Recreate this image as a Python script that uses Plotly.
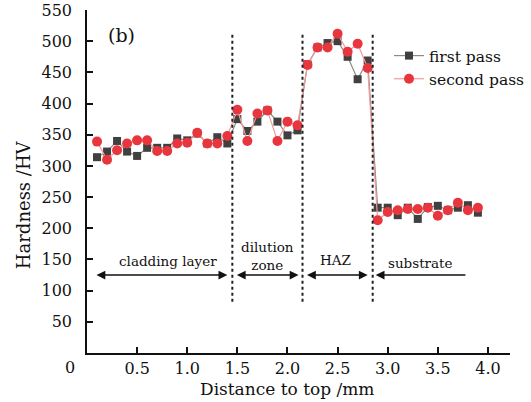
import plotly.graph_objects as go

# ---------------- data ----------------
distance = [0.1, 0.2, 0.3, 0.4, 0.5, 0.6, 0.7, 0.8, 0.9, 1.0,
            1.1, 1.2, 1.3, 1.4, 1.5, 1.6, 1.7, 1.8, 1.9, 2.0,
            2.1, 2.2, 2.3, 2.4, 2.5, 2.6, 2.7, 2.8, 2.9, 3.0,
            3.1, 3.2, 3.3, 3.4, 3.5, 3.6, 3.7, 3.8, 3.9]

first_pass = [314, 323, 340, 323, 316, 329, 329, 329, 344, 341,
              352, 336, 346, 336, 375, 356, 371, 389, 371, 349,
              357, 463, 490, 497, 500, 475, 439, 469, 233, 233,
              221, 233, 215, 234, 236, 229, 233, 237, 225]

second_pass = [339, 310, 325, 336, 341, 341, 324, 324, 336, 337,
               353, 336, 336, 348, 390, 340, 384, 389, 340, 371,
               365, 462, 490, 490, 512, 483, 496, 457, 213, 226,
               229, 231, 231, 233, 220, 229, 241, 229, 233]

series_names = ["first pass", "second pass"]

y_ticks = [50, 100, 150, 200, 250, 300, 350, 400, 450, 500, 550]
x_ticks = [0.5, 1.0, 1.5, 2.0, 2.5, 3.0, 3.5, 4.0]
x_tick_labels = ["0.5", "1.0", "1.5", "2.0", "2.5", "3.0", "3.5", "4.0"]

# zone boundaries (mm)
boundaries = [1.45, 2.15, 2.85]
boundary_low, boundary_high = 82, 513

# zone labels and arrows (start, end in mm)
zone_labels = ["cladding layer", "dilution<br>zone", "HAZ", "substrate"]
zone_arrow_from = [0.08, 1.48, 2.18, 3.79]
zone_arrow_to = [1.40, 2.11, 2.80, 2.88]
zone_arrow_both = [True, True, True, False]
zone_label_x = [0.81, 1.80, 2.48, 3.33]
zone_label_y = [148, 156, 149, 145]
arrow_level = 125

FONT = "DejaVu Serif"

# plot-area geometry in pixels (for placing paper-referenced text)
L, R, T, B = 87, 510, 10, 352.7
def px(x):
    return (x - L) / (R - L)
def py(y):
    return (B - y) / (B - T)

fig = go.Figure()
fig.add_trace(go.Scatter(
    x=distance, y=first_pass, name=series_names[0], mode="lines+markers",
    line=dict(color="#8a8a8a", width=1.2),
    marker=dict(symbol="square", size=8, color="#404040"),
))
fig.add_trace(go.Scatter(
    x=distance, y=second_pass, name=series_names[1], mode="lines+markers",
    line=dict(color="#f39a9a", width=1.2),
    marker=dict(symbol="circle", size=10, color="#e8363f"),
))

shapes = []
for b in boundaries:
    shapes.append(dict(type="line", xref="x", yref="y", x0=b, x1=b,
                       y0=boundary_low, y1=boundary_high,
                       line=dict(color="#222222", width=2, dash="dot")))

annotations = []
for lab, a0, a1, both, lx, ly in zip(zone_labels, zone_arrow_from, zone_arrow_to,
                                     zone_arrow_both, zone_label_x, zone_label_y):
    annotations.append(dict(
        x=a1, y=arrow_level, ax=a0, ay=arrow_level, axref="x", ayref="y",
        xref="x", yref="y", text="", showarrow=True,
        arrowhead=2, startarrowhead=2, arrowsize=1.1, startarrowsize=1.1,
        arrowwidth=1.6, arrowcolor="#111111",
        arrowside="end+start" if both else "end"))
    annotations.append(dict(
        x=lx, y=ly, xref="x", yref="y", text=lab, showarrow=False,
        font=dict(family=FONT, size=13.5, color="#111111"),
        yanchor="middle", xanchor="center"))

annotations.append(dict(x=px(121), y=py(35), xref="paper", yref="paper",
                        text="(b)", showarrow=False,
                        font=dict(family=FONT, size=19, color="#111111"),
                        xanchor="center", yanchor="middle"))
annotations.append(dict(x=px(70), y=py(367), xref="paper", yref="paper",
                        text="0", showarrow=False,
                        font=dict(family=FONT, size=16, color="#111111"),
                        xanchor="center", yanchor="middle"))
annotations.append(dict(x=px(287), y=py(389), xref="paper", yref="paper",
                        text="Distance to top /mm", showarrow=False,
                        font=dict(family=FONT, size=17, color="#111111"),
                        xanchor="center", yanchor="middle"))
annotations.append(dict(x=px(23), y=py(205), xref="paper", yref="paper",
                        text="Hardness /HV", showarrow=False, textangle=-90,
                        font=dict(family=FONT, size=18, color="#111111"),
                        xanchor="center", yanchor="middle"))

fig.update_layout(
    width=531, height=402,
    margin=dict(l=L, r=531 - R, t=T, b=402 - B, autoexpand=False),
    paper_bgcolor="white", plot_bgcolor="white",
    font=dict(family=FONT, size=16, color="#111111"),
    showlegend=True,
    legend=dict(x=px(389), y=py(39), xanchor="left", yanchor="top",
                bgcolor="rgba(0,0,0,0)",
                font=dict(family=FONT, size=15.5, color="#111111"),
                tracegroupgap=0, itemwidth=30),
    shapes=shapes, annotations=annotations,
    xaxis=dict(range=[0, 4.22], tickvals=x_ticks, ticktext=x_tick_labels,
               showgrid=False, zeroline=False, showline=True,
               linecolor="#111111", linewidth=1.5, ticks="inside",
               ticklen=6, tickwidth=1.5, tickcolor="#111111",
               tickfont=dict(family=FONT, size=16)),
    yaxis=dict(range=[0, 550], tickvals=y_ticks,
               showgrid=False, zeroline=False, showline=True,
               linecolor="#111111", linewidth=1.5, ticks="inside",
               ticklen=6, tickwidth=1.5, tickcolor="#111111",
               tickfont=dict(family=FONT, size=16), ticklabelstandoff=10),
)

fig.write_html("out.html",
               config={"displayModeBar": False},
               post_script="document.body.style.margin='0';")
